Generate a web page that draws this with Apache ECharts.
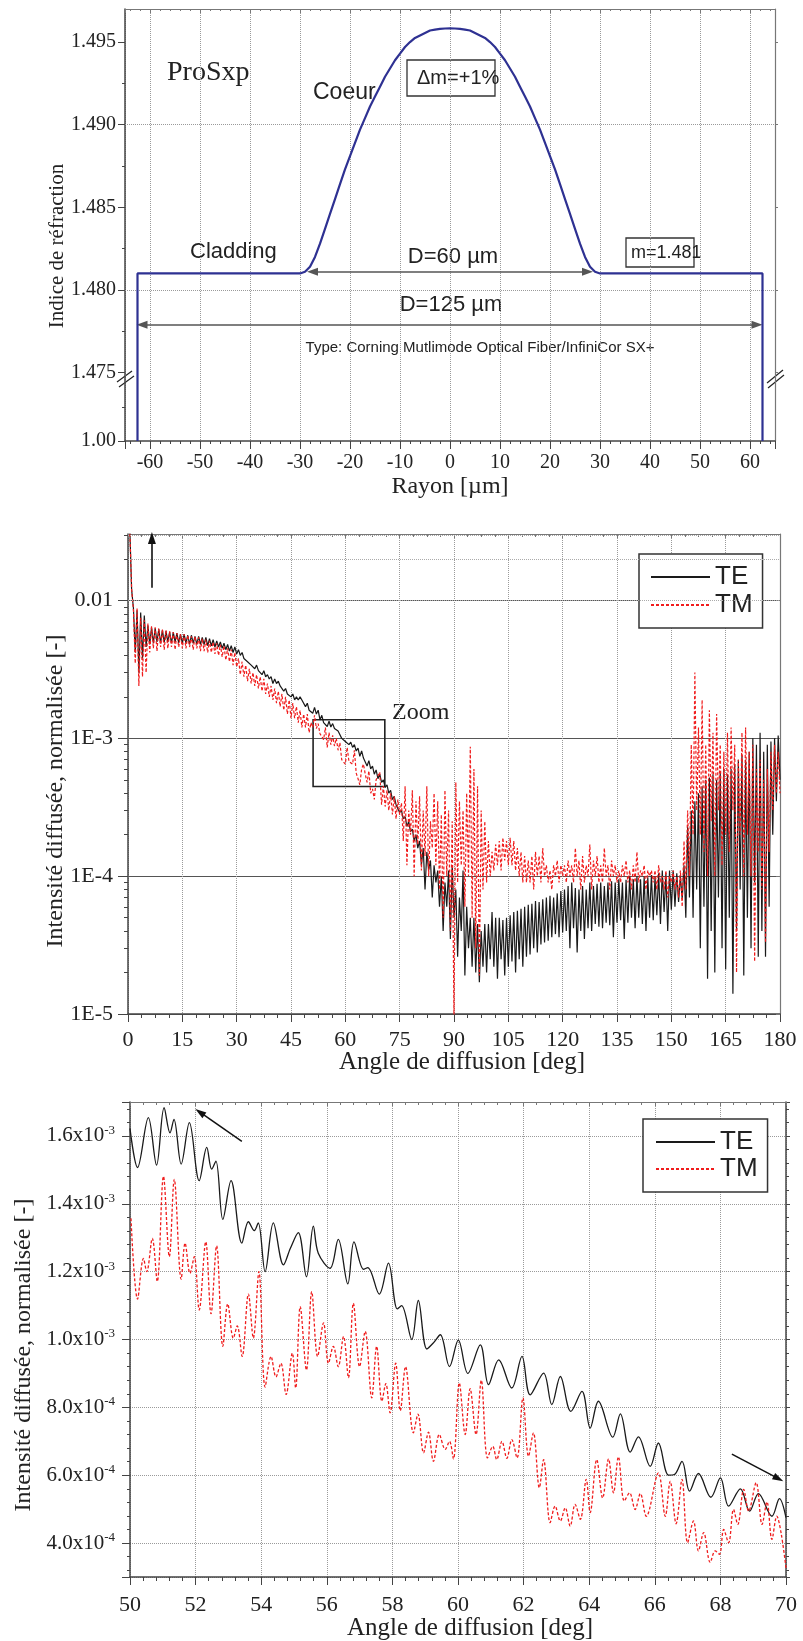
<!DOCTYPE html>
<html><head><meta charset="utf-8">
<script src="https://cdn.jsdelivr.net/npm/echarts@6/dist/echarts.min.js"></script>
<style>html,body{margin:0;padding:0;background:#fff}#c{width:803px;height:1641px}</style>
</head><body><div id="c"></div>
<script>
// ================= Panel 1 : refractive index profile =================
const PROFILE_R = [-62.5,-62.5,-30,-29,-28,-27,-26,-25,-24,-23,-22,-21,-20,-19,-18,-17,-16,-15,-14,-13,-12,-11,-10,-9,-8,-7,-6,-5,-4,-3,-2,-1,0,
  1,2,3,4,5,6,7,8,9,10,11,12,13,14,15,16,17,18,19,20,21,22,23,24,25,26,27,28,29,30,62.5,62.5];
const PROFILE_N = [1.00,1.481,1.4810,1.4811,1.4814,1.4820,1.4828,1.4837,1.4846,1.4855,1.4864,1.4873,1.4881,1.4889,1.4897,1.4904,1.4911,1.4917,1.4923,1.4929,1.4934,1.4939,1.4943,1.4947,1.4950,1.49525,1.4954,1.49555,1.4957,1.49575,1.4958,1.49582,1.49583,
  1.49582,1.4958,1.49575,1.4957,1.49555,1.4954,1.49525,1.4950,1.4947,1.4943,1.4939,1.4934,1.4929,1.4923,1.4917,1.4911,1.4904,1.4897,1.4889,1.4881,1.4873,1.4864,1.4855,1.4846,1.4837,1.4828,1.4820,1.4814,1.4811,1.4810,1.481,1.00];
const P1_Y_TICKS = [1.00, 1.475, 1.480, 1.485, 1.490, 1.495];
const P1_Y_MINOR = [1.2375, 1.4775, 1.4825, 1.4875, 1.4925];
const P1_Y_GRID = [1.480, 1.485, 1.490, 1.495];

// ================= Panel 2 : scattered intensity 0-180 deg (log) =================
const P2_ANGLES = Array.from({length: 360}, (_, i) => (i + 1) * 0.5); // sample grid 0.5..180
const P2_TE = [
 0.033,0.012,0.0088,0.0042,0.0085,0.003,0.0082,0.0038,0.0078,0.0046,
 0.0066,0.0048,0.0064,0.0049,0.0063,0.0050,0.0062,0.0049,0.0061,0.0050,
 0.0060,0.0050,0.0059,0.0049,0.0059,0.0050,0.0058,0.0049,0.0057,0.0049,
 0.0057,0.0049,0.0056,0.0048,0.0056,0.0049,0.0055,0.0048,0.0055,0.0048,
 0.0054,0.0048,0.0054,0.0047,0.0053,0.0047,0.0052,0.0046,0.0051,0.0046,
 0.0050,0.0045,0.0049,0.0044,0.0048,0.0043,0.0047,0.0042,0.0046,0.0041,
 0.0044,0.0040,0.0042,0.0038,0.0039,0.0036,0.0037,0.0034,0.0035,0.0032,
 0.0034,0.0031,0.0032,0.0029,0.0031,0.0028,0.0029,0.0027,0.0028,0.0025,
 0.0027,0.0025,0.0026,0.0024,0.0024,0.0022,0.0023,0.0021,0.0021,0.0020,
 0.0021,0.0019,0.0020,0.0019,0.0020,0.0019,0.0019,0.0017,0.0018,0.0016,
 0.00165,0.00152,0.00168,0.0015,0.0016,0.00136,0.00147,0.0013,0.00134,0.00122,
 0.00133,0.00121,0.00128,0.00118,0.00122,0.00113,0.00111,0.00100,0.00101,0.00095,
 0.00098,0.0009,0.00094,0.00086,0.0009,0.00081,0.00085,0.00074,0.00081,0.00072,
 0.00071,0.00063,0.00069,0.0006,0.00063,0.00055,0.00059,0.00051,0.00055,0.00048,
 0.00050,0.00044,0.00046,0.00040,0.00042,0.00036,0.00038,0.00033,0.00034,0.00029,
 0.00030,0.00026,0.00027,0.00023,0.00025,0.00021,0.00022,0.00018,0.0002,0.00016,
 0.00018,0.00012,0.00016,0.00008,0.00015,0.00011,0.00013,0.00007,0.00012,0.00009,
 0.00011,0.00006,0.0001,0.00004,0.00009,0.00006,0.00011,0.000035,0.00012,0.00005,
 0.00008,0.000026,0.00007,0.00004,0.00011,0.000019,0.00006,0.00003,0.00005,0.000022,
 0.00005,0.00002,0.000045,0.000017,0.00004,0.000022,0.000045,0.00002,0.000045,0.000025,
 0.000055,0.000022,0.00005,0.000018,0.00005,0.000025,0.000048,0.000019,0.00005,0.000022,
 0.000052,0.000024,0.000055,0.00002,0.000056,0.000025,0.000058,0.000022,0.00006,0.000026,
 0.000062,0.000027,0.000063,0.00003,0.000066,0.000028,0.000065,0.000032,0.000068,0.000033,
 0.00007,0.000034,0.000072,0.000036,0.00007,0.000038,0.000075,0.000036,0.000078,0.000039,
 0.00008,0.00004,0.000085,0.00003,0.00009,0.000042,0.000082,0.000028,0.00008,0.00004,
 0.000085,0.000035,0.00008,0.000042,0.00009,0.00004,0.000085,0.000045,0.000088,0.000043,
 0.00009,0.000042,0.000085,0.000046,0.00009,0.000044,0.000092,0.000036,0.00009,0.000046,
 0.000095,0.000048,0.00009,0.000035,0.000094,0.000046,0.0001,0.00005,0.000095,0.000042,
 0.0001,0.00005,0.000095,0.000045,0.0001,0.00004,0.000098,0.00005,0.000102,0.000048,
 0.0001,0.000052,0.000105,0.000045,0.00011,0.000055,0.000105,0.00004,0.00011,0.000057,
 0.00011,0.00006,0.000105,0.000065,0.0001,0.000068,0.00012,0.00005,0.00023,0.00007,
 0.0003,0.00005,0.00035,0.00008,0.0004,0.00003,0.00045,0.00006,0.0005,0.000018,
 0.00052,0.00004,0.00055,0.00002,0.0005,0.00007,0.00058,0.00003,0.0006,0.000021,
 0.00055,0.00005,0.0006,0.000014,0.00065,0.00004,0.0007,0.00008,0.00075,0.000019,
 0.0007,0.00005,0.0008,0.00003,0.001,0.00009,0.0009,0.000026,0.0011,0.00004,
 0.0008,0.000026,0.0009,0.00006,0.00095,0.0002,0.001,0.00035,0.00105,0.0005
];
const P2_TM = [
 0.033,0.012,0.0086,0.0035,0.0088,0.0024,0.0075,0.0028,0.0072,0.003,
 0.0068,0.0042,0.0065,0.0045,0.0064,0.0043,0.0063,0.0046,0.0062,0.0044,
 0.0061,0.0045,0.006,0.0046,0.0059,0.0044,0.0058,0.0046,0.0057,0.0045,
 0.0057,0.0045,0.0056,0.0046,0.0055,0.0044,0.0055,0.0045,0.0054,0.0043,
 0.0053,0.0043,0.0052,0.0042,0.0051,0.0042,0.005,0.0041,0.0049,0.004,
 0.0048,0.0039,0.0047,0.0037,0.0045,0.0036,0.0044,0.0034,0.0042,0.0033,
 0.0038,0.0029,0.0036,0.0028,0.0034,0.0026,0.0032,0.0025,0.003,0.0024,
 0.0029,0.0023,0.0028,0.0022,0.0027,0.0021,0.0025,0.002,0.0024,0.0019,
 0.0023,0.0018,0.0022,0.0017,0.0021,0.0016,0.002,0.0015,0.0019,0.0014,
 0.0018,0.0014,0.0017,0.0013,0.0016,0.0012,0.0015,0.0012,0.0015,0.0011,
 0.0013,0.0012,0.00147,0.00118,0.00128,0.00108,0.0011,0.00098,0.0012,0.00086,
 0.0011,0.0009,0.00105,0.00088,0.001,0.00082,0.00093,0.0007,0.00072,0.00065,
 0.00086,0.00068,0.0007,0.00065,0.00082,0.00056,0.00051,0.00046,0.0006,0.00065,
 0.00055,0.00048,0.00058,0.0004,0.00043,0.00036,0.0005,0.00049,0.00057,0.00033,
 0.00045,0.00032,0.00042,0.0003,0.0004,0.00028,0.00038,0.00026,0.00036,0.00028,
 0.00034,0.00018,0.00045,0.00012,0.0003,0.0002,0.00042,0.0001,0.00035,0.00017,
 0.00038,0.00011,0.0003,0.00014,0.00045,0.0001,0.00025,0.00016,0.0004,0.00012,
 0.00035,0.00008,0.00028,0.00005,0.00042,0.0001,0.0003,0.00004,0.00025,0.000009,
 0.00048,0.00009,0.00035,0.00012,0.0003,0.00006,0.0004,0.0001,0.00087,0.00005,
 0.0006,0.00003,0.00045,0.000019,0.0003,0.00008,0.00025,0.00009,0.00018,0.0001,
 0.00015,0.00011,0.00017,0.00012,0.00018,0.00011,0.00019,0.00013,0.00018,0.00012,
 0.00019,0.00012,0.00018,0.00011,0.00016,0.0001,0.00015,0.00009,0.00014,0.00009,
 0.00013,0.00009,0.00014,0.00008,0.00015,0.0001,0.00014,0.00009,0.00016,0.0001,
 0.00012,0.00009,0.00011,0.00008,0.00012,0.0001,0.00013,0.00009,0.00012,0.0001,
 0.00012,0.00009,0.00013,0.0001,0.00012,0.00009,0.00016,0.0001,0.00013,0.00008,
 0.00014,0.00009,0.00012,0.0001,0.00017,0.00008,0.00013,0.0001,0.00014,0.00009,
 0.00012,0.00009,0.00016,0.0001,0.00012,0.00008,0.00013,0.0001,0.00012,0.00009,
 0.00011,0.00009,0.00012,0.0001,0.00013,0.00009,0.00011,0.00008,0.00012,0.00009,
 0.00015,0.00009,0.00011,0.0001,0.00012,0.00008,0.00011,0.0001,0.00011,0.00009,
 0.00011,0.00008,0.00012,0.00009,0.0001,0.00008,0.00011,0.00007,0.0001,0.00009,
 0.00011,0.00008,0.0001,0.00007,0.00011,0.00006,0.00018,0.00008,0.0003,0.0001,
 0.0009,0.0002,0.003,0.0003,0.0012,0.0002,0.0019,0.00015,0.0009,0.0001,
 0.0016,0.00025,0.0011,0.0001,0.0015,0.0003,0.0009,0.00012,0.0008,0.0002,
 0.0011,0.00015,0.0012,0.0003,0.0009,0.00002,0.0007,0.0002,0.0011,0.0001,
 0.0012,0.0002,0.0008,0.0001,0.0009,0.000024,0.0006,0.00015,0.0007,0.00008,
 0.0005,0.000033,0.0006,0.00015,0.0008,0.0003,0.0009,0.0004,0.0008,0.0004
];

// ================= Panel 3 : zoom 50-70 deg (linear) =================
const P3_TE = [[50.00,1.622e-3],[50.23,1.507e-3],[50.56,1.654e-3],[50.81,1.514e-3],[51.04,1.683e-3],[51.22,1.609e-3],[51.34,1.649e-3],[51.56,1.517e-3],[51.81,1.639e-3],[52.11,1.468e-3],[52.34,1.566e-3],[52.49,1.502e-3],[52.62,1.526e-3],[52.83,1.354e-3],[53.08,1.468e-3],[53.41,1.284e-3],[53.61,1.347e-3],[53.79,1.321e-3],[53.91,1.344e-3],[54.12,1.200e-3],[54.37,1.344e-3],[54.68,1.220e-3],[54.89,1.269e-3],[55.13,1.315e-3],[55.38,1.185e-3],[55.59,1.334e-3],[55.74,1.254e-3],[56.10,1.210e-3],[56.35,1.295e-3],[56.64,1.164e-3],[56.83,1.288e-3],[57.12,1.207e-3],[57.25,1.212e-3],[57.60,1.134e-3],[57.88,1.225e-3],[58.15,1.090e-3],[58.28,1.100e-3],[58.59,1.000e-3],[58.79,1.115e-3],[59.05,0.972e-3],[59.25,0.990e-3],[59.46,1.014e-3],[59.74,0.920e-3],[60.01,0.998e-3],[60.30,0.900e-3],[60.68,0.984e-3],[60.93,0.867e-3],[61.24,0.940e-3],[61.64,0.857e-3],[61.95,0.950e-3],[62.20,0.837e-3],[62.61,0.901e-3],[62.86,0.808e-3],[63.12,0.891e-3],[63.44,0.788e-3],[63.78,0.847e-3],[64.03,0.739e-3],[64.28,0.818e-3],[64.72,0.712e-3],[64.95,0.781e-3],[65.25,0.668e-3],[65.50,0.713e-3],[65.86,0.626e-3],[66.11,0.695e-3],[66.42,0.600e-3],[66.60,0.602e-3],[66.83,0.641e-3],[67.06,0.553e-3],[67.33,0.605e-3],[67.71,0.535e-3],[68.00,0.592e-3],[68.25,0.509e-3],[68.61,0.560e-3],[68.89,0.494e-3],[69.16,0.546e-3],[69.57,0.479e-3],[69.80,0.531e-3],[70.00,0.475e-3]];
const P3_TM = [[50.03,1.357e-3],[50.23,1.119e-3],[50.41,1.239e-3],[50.51,1.200e-3],[50.68,1.298e-3],[50.83,1.171e-3],[51.02,1.481e-3],[51.20,1.244e-3],[51.35,1.472e-3],[51.56,1.178e-3],[51.68,1.284e-3],[51.83,1.195e-3],[51.96,1.244e-3],[52.11,1.087e-3],[52.31,1.288e-3],[52.47,1.076e-3],[52.64,1.276e-3],[52.83,0.980e-3],[52.98,1.105e-3],[53.15,1.004e-3],[53.27,1.040e-3],[53.42,0.950e-3],[53.61,1.134e-3],[53.76,1.004e-3],[53.93,1.200e-3],[54.12,0.860e-3],[54.30,0.950e-3],[54.45,0.890e-3],[54.60,0.930e-3],[54.76,0.838e-3],[54.95,0.960e-3],[55.05,0.857e-3],[55.19,1.097e-3],[55.38,0.910e-3],[55.54,1.141e-3],[55.72,0.950e-3],[55.90,1.049e-3],[56.05,0.930e-3],[56.20,0.980e-3],[56.35,0.920e-3],[56.51,1.009e-3],[56.66,0.887e-3],[56.81,1.107e-3],[57.00,0.920e-3],[57.17,1.024e-3],[57.37,0.828e-3],[57.52,0.980e-3],[57.68,0.818e-3],[57.80,0.870e-3],[57.93,0.784e-3],[58.10,0.930e-3],[58.24,0.790e-3],[58.40,0.920e-3],[58.64,0.725e-3],[58.78,0.780e-3],[58.95,0.666e-3],[59.10,0.727e-3],[59.25,0.641e-3],[59.43,0.720e-3],[59.61,0.676e-3],[59.74,0.700e-3],[59.86,0.648e-3],[60.04,0.872e-3],[60.22,0.720e-3],[60.37,0.855e-3],[60.55,0.720e-3],[60.71,0.880e-3],[60.90,0.651e-3],[61.06,0.685e-3],[61.18,0.646e-3],[61.34,0.700e-3],[61.49,0.650e-3],[61.64,0.705e-3],[61.80,0.651e-3],[61.98,0.828e-3],[62.15,0.656e-3],[62.30,0.725e-3],[62.48,0.563e-3],[62.61,0.646e-3],[62.81,0.460e-3],[62.96,0.509e-3],[63.12,0.465e-3],[63.27,0.504e-3],[63.42,0.450e-3],[63.57,0.514e-3],[63.73,0.470e-3],[63.91,0.588e-3],[64.03,0.490e-3],[64.23,0.646e-3],[64.41,0.533e-3],[64.59,0.648e-3],[64.74,0.548e-3],[64.89,0.654e-3],[65.07,0.524e-3],[65.23,0.548e-3],[65.40,0.499e-3],[65.56,0.546e-3],[65.74,0.479e-3],[66.11,0.607e-3],[66.32,0.479e-3],[66.47,0.582e-3],[66.65,0.457e-3],[66.83,0.588e-3],[67.00,0.401e-3],[67.18,0.465e-3],[67.33,0.377e-3],[67.49,0.431e-3],[67.69,0.343e-3],[67.84,0.377e-3],[67.97,0.367e-3],[68.10,0.440e-3],[68.25,0.401e-3],[68.40,0.499e-3],[68.53,0.455e-3],[68.71,0.558e-3],[68.86,0.494e-3],[69.09,0.578e-3],[69.27,0.455e-3],[69.42,0.521e-3],[69.57,0.411e-3],[69.72,0.479e-3],[69.85,0.430e-3],[70.00,0.327e-3]];

// ================= helpers / styles =================
const SERIF = '"Liberation Serif","Times New Roman",serif';
const SANS = '"Liberation Sans",Arial,sans-serif';
const INK = '#222';
const AX = '#444';
const GRIDC = '#9a9a9a';
const RED = '#f01c1c';
const BLUE = '#2e3192';

// panel 1 broken axis: 1.00 .. 1.475 compressed into a short segment below 1.475
const P1_BREAK = 1.475, P1_LOW = 1.00, P1_DISP_MIN = 1.47086;
function toDisp(n) { return n >= P1_BREAK ? n : P1_BREAK - (P1_BREAK - n) / (P1_BREAK - P1_LOW) * (P1_BREAK - P1_DISP_MIN); }
const P1_TICKS_D = P1_Y_TICKS.map(toDisp);

const P2_MINOR = [];
[1e-5, 1e-4, 1e-3, 1e-2].forEach(d => { for (let m = 2; m <= 9; m++) { const v = m * d; if (v < 0.0304) P2_MINOR.push(v); } });

function sciLabel(v) {
  const e = v >= 9.99e-4 ? -3 : -4;
  const m = v / Math.pow(10, e);
  return '{m|' + m.toFixed(1) + 'x10}{e|' + e + '}';
}

const NOZ = {onZero: false};
function axLine(color, width) { return {show: true, onZero: false, lineStyle: {color: color, width: width}}; }

const chart = echarts.init(document.getElementById('c'));

const LEGEND_BASE = {data: ['TE', 'TM'], orient: 'vertical', itemWidth: 59, itemHeight: 12,
  borderColor: '#333', borderWidth: 1.5, backgroundColor: '#fff', selectedMode: false,
  itemStyle: {opacity: 0}, textStyle: {fontSize: 26, fontFamily: SANS, color: INK}};

const option = {
  animation: false,
  backgroundColor: '#fff',
  grid: [
    {left: 125, top: 9, width: 650, height: 432},
    {left: 128, top: 534, width: 652, height: 480},
    {left: 130, top: 1102, width: 656, height: 475}
  ],
  legend: [
    Object.assign({}, LEGEND_BASE, {left: 639, top: 554, itemGap: 2, padding: [10, 10, 10, 11]}),
    Object.assign({}, LEGEND_BASE, {left: 643, top: 1119, itemGap: 1, padding: [10, 10, 10, 12]})
  ],
  xAxis: [
    // panel 1
    {type: 'value', gridIndex: 0, min: -65, max: 65, splitNumber: 13,
     axisLine: axLine(AX, 1.5), axisTick: {length: 8, lineStyle: {color: AX}},
     minorTick: {show: true, splitNumber: 5, length: 3, lineStyle: {color: AX}},
     axisLabel: {showMinLabel: false, showMaxLabel: false, fontSize: 20, fontFamily: SERIF, color: INK, margin: 12},
     splitLine: {show: true, lineStyle: {type: 'dotted', color: GRIDC}}},
    {type: 'value', gridIndex: 0, position: 'top', min: -65, max: 65, splitNumber: 13,
     axisLine: axLine('#777', 1.2), axisTick: {inside: true, length: 4, lineStyle: {color: '#777'}},
     minorTick: {show: true, splitNumber: 5, length: 2, lineStyle: {color: '#777'}}, axisLabel: {show: false}, splitLine: {show: false}},
    // panel 2
    {type: 'value', gridIndex: 1, min: 0, max: 180, interval: 15,
     axisLine: axLine(AX, 1.5), axisTick: {length: 8, lineStyle: {color: AX}},
     minorTick: {show: true, splitNumber: 4, length: 4, lineStyle: {color: AX}},
     axisLabel: {fontSize: 22, fontFamily: SERIF, color: INK, margin: 15},
     splitLine: {show: true, lineStyle: {type: 'dotted', color: GRIDC}}},
    {type: 'value', gridIndex: 1, position: 'top', min: 0, max: 180, interval: 15,
     axisLine: axLine('#777', 1.2), axisTick: {inside: true, length: 4, lineStyle: {color: '#777'}},
     minorTick: {show: true, splitNumber: 4, length: 3, lineStyle: {color: '#777'}}, axisLabel: {show: false}, splitLine: {show: false}},
    // panel 3
    {type: 'value', gridIndex: 2, min: 50, max: 70, interval: 2,
     axisLine: axLine(AX, 1.5), axisTick: {length: 8, lineStyle: {color: AX}},
     minorTick: {show: true, splitNumber: 5, length: 4, lineStyle: {color: AX}},
     axisLabel: {fontSize: 22, fontFamily: SERIF, color: INK, margin: 17},
     splitLine: {show: true, lineStyle: {type: 'dotted', color: GRIDC}}},
    {type: 'value', gridIndex: 2, position: 'top', min: 50, max: 70, interval: 2,
     axisLine: axLine('#777', 1.2), axisTick: {inside: true, length: 4, lineStyle: {color: '#777'}},
     minorTick: {show: true, splitNumber: 5, length: 3, lineStyle: {color: '#777'}}, axisLabel: {show: false}, splitLine: {show: false}}
  ],
  yAxis: [
    // panel 1 (0,1,2)
    {type: 'value', gridIndex: 0, min: P1_DISP_MIN, max: 1.497,
     axisLine: axLine(AX, 1.5),
     axisTick: {show: true, customValues: P1_TICKS_D, length: 7, lineStyle: {color: AX}},
     axisLabel: {customValues: P1_TICKS_D, fontSize: 20, fontFamily: SERIF, color: INK, margin: 9,
       formatter: v => Math.abs(v - P1_DISP_MIN) < 1e-6 ? '1.00' : v.toFixed(3)},
     splitLine: {show: false}},
    {type: 'value', gridIndex: 0, min: P1_DISP_MIN, max: 1.497, position: 'left',
     axisLine: {show: false, onZero: false}, axisTick: {show: true, customValues: P1_Y_MINOR.map(toDisp), length: 3, lineStyle: {color: AX}},
     axisLabel: {show: false}, splitLine: {show: false}},
    {type: 'value', gridIndex: 0, min: P1_DISP_MIN, max: 1.497, position: 'right',
     axisLine: axLine('#777', 1.2),
     axisTick: {show: true, customValues: P1_TICKS_D.slice(1), length: 3, lineStyle: {color: '#777'}},
     axisLabel: {show: false}, splitLine: {show: false}},
    // panel 2 (3,4,5)
    {type: 'log', logBase: 10, gridIndex: 1, min: 1e-5, max: 0.0304,
     axisLine: axLine(AX, 1.5), axisTick: {show: true, length: 10, lineStyle: {color: AX}},
     axisLabel: {showMaxLabel: false, fontSize: 22, fontFamily: SERIF, color: INK, margin: 15,
       formatter: v => (Math.abs(v - 0.01) < 1e-9 ? '0.01' : '1E' + Math.round(Math.log10(v)))},
     splitLine: {show: true, lineStyle: {type: 'solid', color: '#555', width: 1.2}}},
    {type: 'log', logBase: 10, gridIndex: 1, min: 1e-5, max: 0.0304, position: 'left',
     axisLine: {show: false, onZero: false}, axisTick: {show: true, customValues: P2_MINOR, length: 4, lineStyle: {color: AX}},
     axisLabel: {show: false}, splitLine: {show: false}},
    {type: 'log', logBase: 10, gridIndex: 1, min: 1e-5, max: 0.0304, position: 'right',
     axisLine: axLine('#777', 1.2), axisTick: {show: true, inside: true, length: 4, lineStyle: {color: '#777'}},
     axisLabel: {show: false}, splitLine: {show: false}},
    // panel 3 (6,7)
    {type: 'value', gridIndex: 2, min: 3e-4, max: 1.7e-3, splitNumber: 7,
     axisLine: axLine(AX, 1.5), axisTick: {show: true, length: 8, lineStyle: {color: AX}},
     minorTick: {show: true, splitNumber: 5, length: 3, lineStyle: {color: AX}},
     axisLabel: {showMinLabel: false, showMaxLabel: false, margin: 15, formatter: sciLabel,
       rich: {m: {fontSize: 21, fontFamily: SERIF, color: INK, lineHeight: 24},
              e: {fontSize: 13, fontFamily: SERIF, color: INK, lineHeight: 13, verticalAlign: 'top'}}},
     splitLine: {show: true, lineStyle: {type: 'dotted', color: GRIDC}}},
    {type: 'value', gridIndex: 2, min: 3e-4, max: 1.7e-3, splitNumber: 7, position: 'right',
     axisLine: axLine(AX, 1.5), axisTick: {show: true, length: 4, lineStyle: {color: AX}},
     minorTick: {show: true, splitNumber: 5, length: 3, lineStyle: {color: AX}},
     axisLabel: {show: false}, splitLine: {show: false}}
  ],
  series: [
    // ---- panel 1
    {type: 'line', name: 'profile', xAxisIndex: 0, yAxisIndex: 0, symbol: 'none', z: 5,
     data: PROFILE_R.map((r, i) => [r, toDisp(PROFILE_N[i])]),
     lineStyle: {color: BLUE, width: 2.2},
     markLine: {silent: true, symbol: 'none', label: {show: false}, animation: false,
       lineStyle: {type: 'dotted', color: GRIDC, width: 1},
       data: P1_Y_GRID.map(n => ({yAxis: toDisp(n)}))}},
    {type: 'line', name: 'arrows1', xAxisIndex: 0, yAxisIndex: 0, data: [], z: 6,
     markLine: {silent: true, symbol: ['triangle', 'triangle'], symbolSize: [8, 11], label: {show: false},
       lineStyle: {type: 'solid', color: '#555', width: 1.6},
       data: [
         [{coord: [-27.5, toDisp(1.4811)]}, {coord: [27.5, toDisp(1.4811)]}],
         [{coord: [-61.6, toDisp(1.4779)]}, {coord: [61.4, toDisp(1.4779)]}]
       ]}},
    // ---- panel 2
    {type: 'line', name: 'TE', xAxisIndex: 2, yAxisIndex: 3, symbol: 'none', z: 3,
     data: P2_ANGLES.map((a, i) => [a, P2_TE[i]]),
     lineStyle: {color: '#1a1a1a', width: 1.2}, itemStyle: {color: '#1a1a1a'},
     markLine: {silent: true, symbol: 'none', label: {show: false},
       lineStyle: {type: 'dotted', color: '#aaa', width: 1},
       data: P2_MINOR.map(v => ({yAxis: v}))}},
    {type: 'line', name: 'TM', xAxisIndex: 2, yAxisIndex: 3, symbol: 'none', z: 4,
     data: P2_ANGLES.map((a, i) => [a, P2_TM[i]]),
     lineStyle: {color: RED, width: 1.2, type: [3, 2]}, itemStyle: {color: RED}},
    {type: 'line', name: 'notes2', xAxisIndex: 2, yAxisIndex: 3, data: [], z: 6,
     markLine: {silent: true, symbol: ['none', 'triangle'], symbolSize: [8, 12], label: {show: false},
       lineStyle: {type: 'solid', color: '#111', width: 1.6},
       data: [[{coord: [6.6, 0.0124]}, {coord: [6.6, 0.0284]}]]},
     markArea: {silent: true, label: {show: false},
       itemStyle: {color: 'rgba(0,0,0,0)', borderColor: '#222', borderWidth: 1.6},
       data: [[{coord: [51.1, 4.47e-4]}, {coord: [70.9, 1.366e-3]}]]}},
    // ---- panel 3
    {type: 'line', name: 'TE', xAxisIndex: 4, yAxisIndex: 6, symbol: 'none', smooth: 0.35, z: 3,
     data: P3_TE, lineStyle: {color: '#1a1a1a', width: 1.3}, itemStyle: {color: '#1a1a1a'}},
    {type: 'line', name: 'TM', xAxisIndex: 4, yAxisIndex: 6, symbol: 'none', smooth: 0.35, z: 4,
     data: P3_TM, lineStyle: {color: RED, width: 1.3, type: [3, 2]}, itemStyle: {color: RED}},
    {type: 'line', name: 'notes3', xAxisIndex: 4, yAxisIndex: 6, data: [], z: 6,
     markLine: {silent: true, symbol: ['none', 'triangle'], symbolSize: [7, 11], label: {show: false},
       lineStyle: {type: 'solid', color: '#111', width: 1.5},
       data: [
         [{coord: [53.41, 1.584e-3]}, {coord: [52.13, 1.670e-3]}],
         [{coord: [68.35, 6.62e-4]}, {coord: [69.77, 5.90e-4]}]
       ]}}
  ],
  graphic: [
    // panel 1 annotations
    {type: 'text', x: 167, y: 73, style: {text: 'ProSxp', font: '28px ' + SERIF, fill: INK, textVerticalAlign: 'middle'}},
    {type: 'text', x: 313, y: 93, style: {text: 'Coeur', font: '23px ' + SANS, fill: INK, textVerticalAlign: 'middle'}},
    {type: 'rect', shape: {x: 407, y: 60, width: 88, height: 36}, style: {fill: 'none', stroke: '#333', lineWidth: 1.3}},
    {type: 'text', x: 417, y: 78, style: {text: 'Δm=+1%', font: '20px ' + SANS, fill: INK, textVerticalAlign: 'middle'}},
    {type: 'text', x: 190, y: 252, style: {text: 'Cladding', font: '22px ' + SANS, fill: INK, textVerticalAlign: 'middle'}},
    {type: 'text', x: 453, y: 257, style: {text: 'D=60 µm', font: '22px ' + SANS, fill: INK, textAlign: 'center', textVerticalAlign: 'middle'}},
    {type: 'text', x: 451, y: 305, style: {text: 'D=125 µm', font: '22px ' + SANS, fill: INK, textAlign: 'center', textVerticalAlign: 'middle'}},
    {type: 'text', x: 480, y: 348, style: {text: 'Type: Corning Mutlimode Optical Fiber/InfiniCor SX+', font: '15px ' + SANS, fill: INK, textAlign: 'center', textVerticalAlign: 'middle'}},
    {type: 'rect', shape: {x: 626, y: 238, width: 68, height: 29}, style: {fill: 'none', stroke: '#333', lineWidth: 1.3}},
    {type: 'text', x: 631, y: 253, style: {text: 'm=1.481', font: '18px ' + SANS, fill: INK, textVerticalAlign: 'middle'}},
    // break marks
    {type: 'line', shape: {x1: 117, y1: 382, x2: 132, y2: 371}, style: {stroke: '#222', lineWidth: 1.2}},
    {type: 'line', shape: {x1: 119, y1: 387, x2: 134, y2: 376}, style: {stroke: '#222', lineWidth: 1.2}},
    {type: 'line', shape: {x1: 767, y1: 383, x2: 783, y2: 370}, style: {stroke: '#222', lineWidth: 1.2}},
    {type: 'line', shape: {x1: 768, y1: 388, x2: 784, y2: 375}, style: {stroke: '#222', lineWidth: 1.2}},
    // axis titles
    {type: 'text', x: 57, y: 246, rotation: Math.PI / 2, style: {text: 'Indice de réfraction', font: '21px ' + SERIF, fill: INK, textAlign: 'center', textVerticalAlign: 'middle'}},
    {type: 'text', x: 450, y: 487, style: {text: 'Rayon [µm]', font: '24px ' + SERIF, fill: INK, textAlign: 'center', textVerticalAlign: 'middle'}},
    {type: 'text', x: 56, y: 791, rotation: Math.PI / 2, style: {text: 'Intensité diffusée, normalisée [-]', font: '24px ' + SERIF, fill: INK, textAlign: 'center', textVerticalAlign: 'middle'}},
    {type: 'text', x: 462, y: 1062, style: {text: 'Angle de diffusion [deg]', font: '25px ' + SERIF, fill: INK, textAlign: 'center', textVerticalAlign: 'middle'}},
    {type: 'text', x: 392, y: 713, style: {text: 'Zoom', font: '24px ' + SERIF, fill: INK, textVerticalAlign: 'middle'}},
    {type: 'text', x: 24, y: 1355, rotation: Math.PI / 2, style: {text: 'Intensité diffusée, normalisée [-]', font: '24px ' + SERIF, fill: INK, textAlign: 'center', textVerticalAlign: 'middle'}},
    {type: 'text', x: 470, y: 1628, style: {text: 'Angle de diffusion [deg]', font: '25px ' + SERIF, fill: INK, textAlign: 'center', textVerticalAlign: 'middle'}}
  ]
};
chart.setOption(option);
</script>
</body></html>
